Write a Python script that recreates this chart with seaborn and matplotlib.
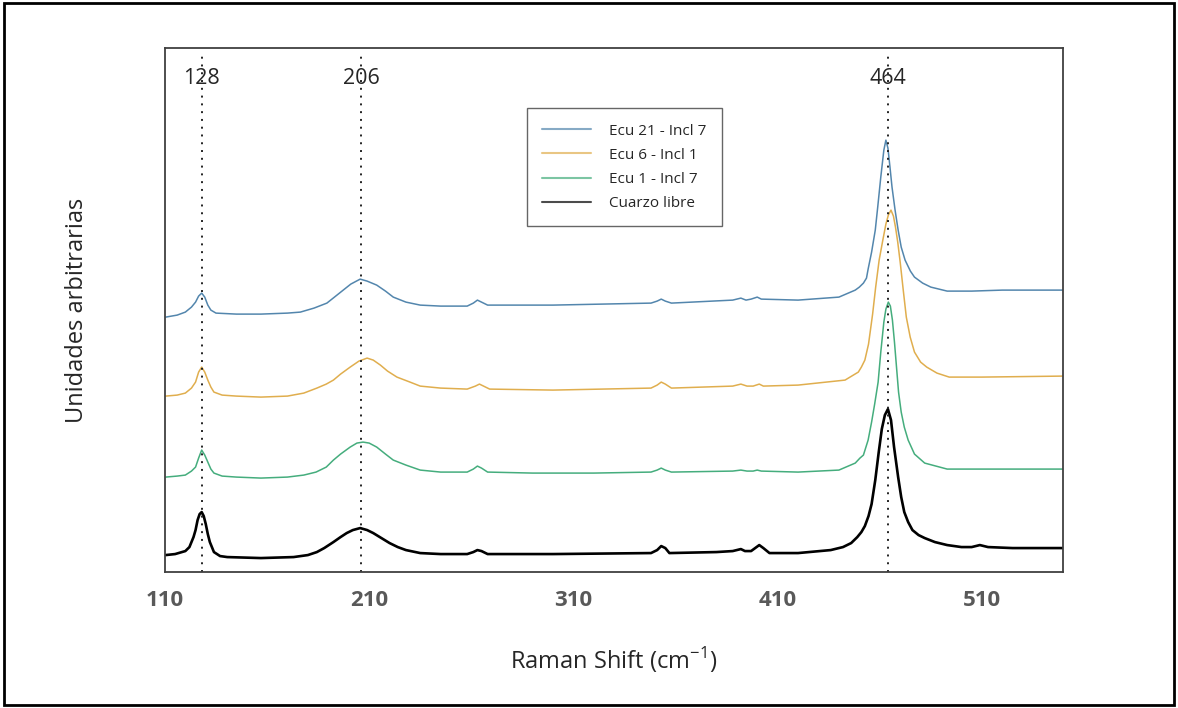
import numpy as np
import pandas as pd
import matplotlib
matplotlib.use("Agg")
import matplotlib.pyplot as plt
import seaborn as sns

# espectros (intensidad en unidades arbitrarias)
shift_cuarzo = [110.4, 115, 120, 122, 124, 125, 126, 127, 128, 129, 130, 131, 132, 134, 137, 140.5, 157, 173,
                180, 184.4, 188, 192.5, 196, 199, 202, 205.6, 209, 212, 216, 220, 224, 228, 235, 245, 258,
                261, 263, 265, 268, 300, 348, 351, 353, 355, 357, 380, 388, 392, 394, 397, 399, 401, 403,
                406, 420, 436, 442, 446, 449, 451, 452.7, 454.5, 456, 457.8, 459.5, 461, 462.5,
                464, 465.5, 467, 469, 470.5, 472, 473.9, 476, 479, 482, 487, 493, 500, 505, 509, 513,
                525, 549.5]
int_cuarzo = [17, 18, 21, 25, 35, 42, 52, 58, 60, 56, 48, 38, 30, 20, 16, 15, 14, 15,
              17, 20, 24, 30, 35, 39, 42, 44, 42, 39, 34, 29, 25, 22, 19, 18, 18,
              20, 22, 21, 18, 18, 19, 22, 26, 24, 19, 20, 21, 23, 21, 21, 24, 27, 24,
              19, 19, 22, 25, 29, 35, 40, 46, 56, 68, 92, 120, 143, 157,
              163, 152, 125, 95, 75, 60, 50, 42, 37, 34, 30, 27, 25, 25, 27, 25,
              24, 24]

shift_ecu1 = [110.4, 116, 120, 123, 125, 126.5, 128, 129.5, 131, 132.5, 134, 138, 145, 157, 170, 178, 184,
              189, 192.5, 196, 200.7, 204, 207, 210, 213.7, 218, 221.8, 228, 235, 245, 258, 261, 263, 265,
              268, 290, 320, 348, 351, 353, 355, 358, 388, 392, 395, 398, 400, 402, 420, 440, 448, 450.3,
              452, 454.3, 456, 457.5, 459.2, 460.5, 462, 463, 464.2, 465.2, 466.2, 467.2, 468.2, 469.2,
              470.5, 472, 473.9, 477, 482, 493, 510, 549.5]
int_ecu1 = [95, 96, 97, 101, 105, 114, 122, 117, 110, 103, 99, 96, 95, 94, 95, 97, 100,
            105, 112, 118, 125, 129, 130, 129, 125, 118, 112, 107, 102, 100, 100, 103, 106, 104,
            100, 99, 99, 100, 102, 104, 102, 100, 101, 102, 101, 101, 102, 101, 100, 102, 109, 114,
            117, 132, 150, 168, 190, 220, 250, 263, 270, 266, 252, 230, 205, 180,
            160, 145, 132, 118, 109, 103, 103, 103]

shift_ecu6 = [110.4, 116, 120, 123, 125, 126.5, 128, 129.5, 131, 132.5, 134, 138, 145, 157, 170, 178, 184.4,
              189, 192.5, 196, 200.7, 205, 209, 212, 215.5, 219, 223.6, 230, 235, 245, 258, 262, 264, 266,
              269, 300, 348, 351, 353, 355, 358, 388, 392, 395, 398, 401, 403, 420, 443, 449.5, 451,
              452.7, 454.5, 456.5, 458, 459.7, 461.5, 463, 464.2, 465.5, 466.7, 467.7, 468.8, 470,
              471.5, 473, 474.9, 477, 480, 483, 488, 494, 510, 549.5]
int_ecu6 = [176, 177, 179, 184, 190, 200, 205, 200, 192, 185, 180, 177, 176, 175, 176, 179, 184,
            188, 192, 198, 205, 211, 214, 212, 207, 201, 195, 190, 186, 184, 183, 186, 188, 186,
            183, 182, 184, 187, 190, 188, 184, 186, 188, 186, 186, 188, 186, 187, 192, 200, 205,
            212, 228, 258, 285, 312, 332, 348, 357, 362, 356, 345, 330, 310,
            282, 255, 235, 220, 210, 205, 199, 195, 195, 196]

shift_ecu21 = [110.4, 116, 120, 123, 125, 126.5, 128, 129.5, 131, 132.5, 135, 145, 157, 170, 176.3, 183,
               189.3, 193, 197.3, 201, 205.6, 209, 213.7, 218, 221.8, 228, 235, 245, 258, 261, 263, 265,
               268, 300, 348, 351, 353, 355, 358, 388, 392, 394.5, 397, 400, 402, 420, 440, 448, 450,
               452, 453.5, 454.3, 456, 457.8, 459, 460.5, 462, 463, 464, 465, 466, 467.5, 469, 470.5,
               472.4, 475, 477, 481, 485, 493, 505, 520, 549.5]
int_ecu21 = [255, 257, 260, 265, 270, 276, 279, 275, 267, 262, 259, 258, 258, 259, 260, 264,
             269, 275, 282, 288, 293, 291, 287, 281, 275, 270, 267, 266, 266, 269, 272, 270,
             267, 267, 269, 271, 273, 271, 269, 272, 274, 272, 273, 275, 273, 272, 275, 282, 285,
             289, 294, 303, 320, 342, 365, 395, 422, 432, 424, 405, 385, 362, 342, 325,
             312, 301, 295, 289, 285, 281, 281, 282, 282]

series = [("Ecu 21 - Incl 7", shift_ecu21, int_ecu21, "#5386ad", 1.1),
          ("Ecu 6 - Incl 1", shift_ecu6, int_ecu6, "#e0ae4e", 1.1),
          ("Ecu 1 - Incl 7", shift_ecu1, int_ecu1, "#45ad7d", 1.1),
          ("Cuarzo libre", shift_cuarzo, int_cuarzo, "black", 1.9)]

picos = [128, 206, 464]
ticks_x = [110, 210, 310, 410, 510]

sns.set_style("white")
plt.rcParams['font.family'] = ['Open Sans', 'DejaVu Sans']
plt.rcParams['mathtext.fontset'] = 'custom'
plt.rcParams['mathtext.rm'] = 'Open Sans'

fig = plt.figure(figsize=(11.78, 7.08), dpi=100)
ax = fig.add_axes([0.140, 0.192, 0.762, 0.740])

for nombre, xs, ys, color, lw in series:
    df = pd.DataFrame({"shift": xs, "intensidad": ys})
    sns.lineplot(data=df, x="shift", y="intensidad", color=color, linewidth=lw,
                 label=nombre, sort=False, estimator=None, ax=ax)

for p in picos:
    ax.axvline(p, ymin=0, ymax=0.995, color="#222222", linestyle=(0, (1, 3)), linewidth=1.4)
    ax.text(p, 494, str(p), ha="center", va="center", fontsize=15.5, color="#262626")

ax.set_xlim(110.4, 549.5)
ax.set_ylim(0, 524)
ax.set_xticks(ticks_x)
ax.set_yticks([])
ax.tick_params(axis="x", direction="inout", length=10, width=1.2, color="#404040",
               labelsize=16, labelcolor="#595959", pad=8)
for lab in ax.get_xticklabels():
    lab.set_fontweight("bold")
for s in ax.spines.values():
    s.set_color("#404040")
    s.set_linewidth(1.3)

ax.set_xlabel(r"Raman Shift (cm$^{\mathregular{-1}}$)", fontsize=17, color="#262626")
ax.set_ylabel("Unidades arbitrarias", fontsize=17, color="#262626")
ax.xaxis.set_label_coords(0.5, -0.14)
ax.yaxis.set_label_coords(-0.085, 0.5)

leg = ax.legend(loc="upper left", bbox_to_anchor=(0.403, 0.885), borderaxespad=0, fontsize=11,
                frameon=True, fancybox=False, edgecolor="#404040", handlelength=3.2,
                labelspacing=0.6, borderpad=1.0, handletextpad=1.2)
leg.get_frame().set_linewidth(1.0)
for h in leg.get_lines():
    h.set_linewidth(1.5)
    h.set_alpha(0.7)

fig.add_artist(plt.Rectangle((0.003, 0.004), 0.994, 0.992, transform=fig.transFigure,
                             fill=False, edgecolor="black", linewidth=2))

fig.savefig("out.png", dpi=100)
